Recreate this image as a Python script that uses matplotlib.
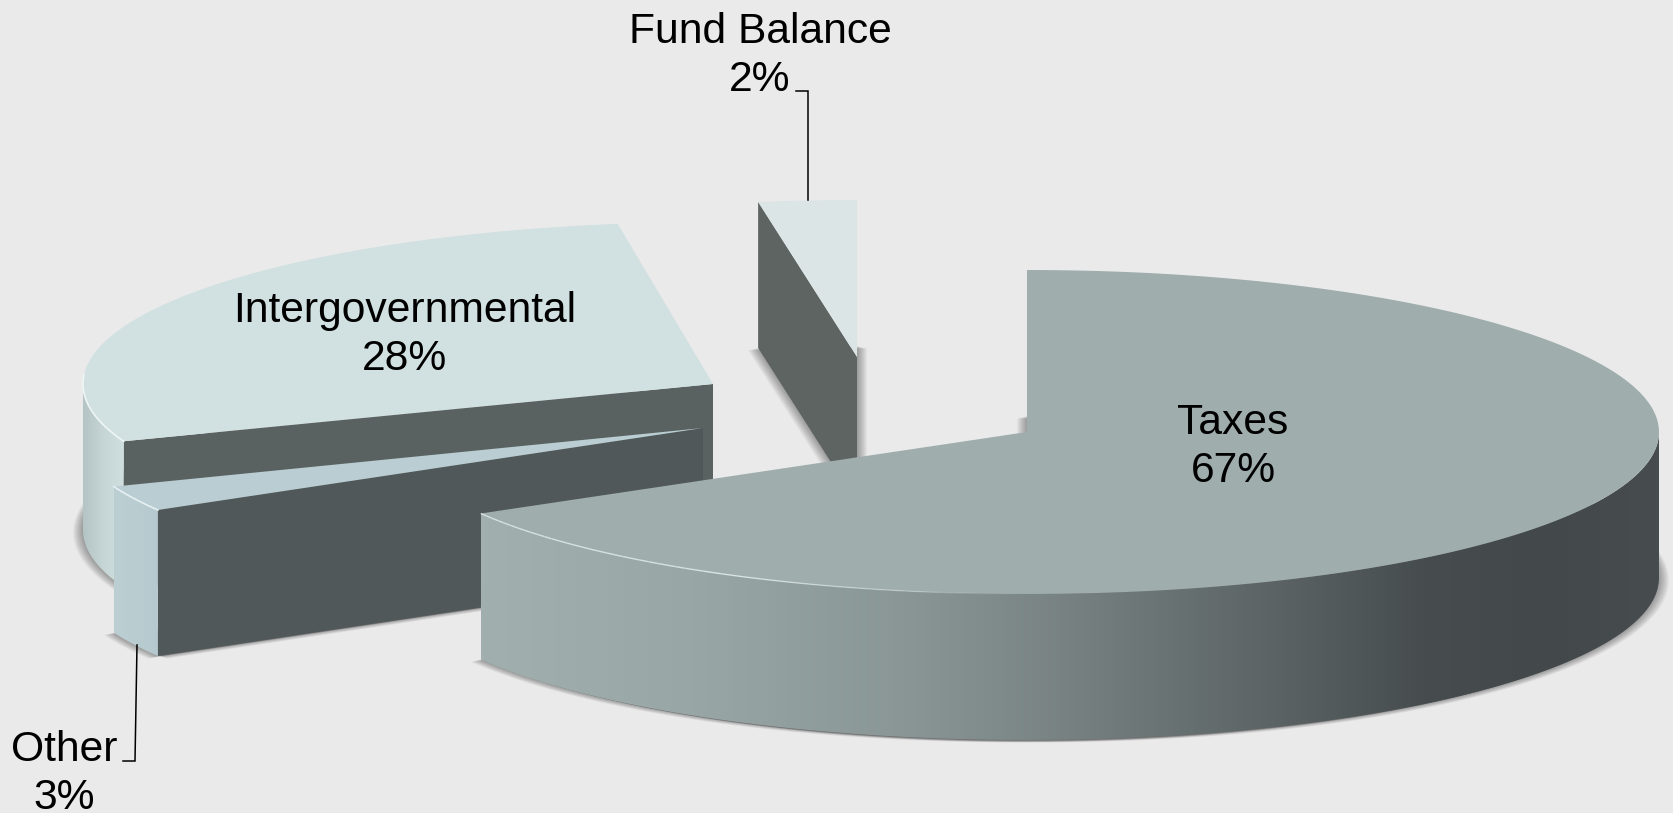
import numpy as np
import matplotlib
matplotlib.use('Agg')
import matplotlib.pyplot as plt
from matplotlib.colors import LinearSegmentedColormap
from matplotlib.patches import Polygon

plt.rcParams['font.family'] = ['Liberation Sans', 'DejaVu Sans']

labels = ['Taxes', 'Other', 'Intergovernmental', 'Fund Balance']
values = [67, 3, 28, 2]

BG = '#eaeaea'
THICK = 146

# where each slice sits on the page, in pixels. trim nudges the start/end
# angle a little because the projection isn't a perfect ellipse
slice_conf = {
    'Taxes': {'apex': (1027, 432), 'rx': 632, 'ry': 162, 'trim': (0, -1.4),
              'top': '#9fadad', 'face': '#9fadad',
              'wall': ['#a1afaf', '#98a6a6', '#8a9696', '#778181', '#5a6264', '#474d4f', '#43494b', '#474d4f'],
              'wall_pos': [0, 0.18, 0.36, 0.5, 0.68, 0.8, 0.9, 1]},
    'Other': {'apex': (703, 428), 'rx': 632, 'ry': 162, 'trim': (-1.6, -3.2),
              'top': '#bacdd2', 'face': '#505859',
              'wall': ['#bccfd3', '#b6c9ce'], 'wall_pos': [0, 1]},
    'Intergovernmental': {'apex': (713, 384), 'rx': 630, 'ry': 162, 'trim': (-2.7, -1.5),
                          'top': '#d1e0e0', 'face': '#596260',
                          'wall': ['#b4c4c5', '#c6d6d7', '#d0dfdf'], 'wall_pos': [0, 0.5, 1]},
    'Fund Balance': {'apex': (857, 357), 'rx': 632, 'ry': 157, 'trim': (-1.8, 0),
                     'top': '#dce5e6', 'face': '#5e6462',
                     'wall': ['#dce5e6', '#dce5e6'], 'wall_pos': [0, 1]},
}

# back to front
draw_order = ['Fund Balance', 'Intergovernmental', 'Other', 'Taxes']

label_pos = {
    'Taxes': (1233, 447),
    'Other': (64, 774),
    'Intergovernmental': (405, 335),
    'Fund Balance': (760, 56),
}
leaders = {
    'Fund Balance': ([796, 808, 808], [91, 91, 200]),
    'Other': ([137, 135, 123], [645, 761, 761]),
}


def arc(conf, a0, a1, drop=0, n=200):
    # angles clockwise from 12 o'clock, y grows downwards
    t = np.radians(np.linspace(a0, a1, n))
    x = conf['apex'][0] + conf['rx'] * np.sin(t)
    y = conf['apex'][1] - conf['ry'] * np.cos(t) + drop
    return x, y


def draw_shadow(ax, conf, a0, a1):
    # horizontal smear of the slice's underside
    x, y = arc(conf, a0, a1, THICK)
    x = np.r_[conf['apex'][0], x]
    y = np.r_[conf['apex'][1] + THICK, y]
    for k in range(1, 11):
        for sign in (-1, 1):
            ax.add_patch(Polygon(np.c_[x + sign * k, y + k * 0.25], closed=True, fc='black',
                                 ec='none', alpha=0.035, zorder=1))


def draw_slice(ax, conf, a0, a1, z):
    ax_x, ax_y = conf['apex']
    # cut face at the start angle
    ex, ey = arc(conf, a0, a0, n=1)
    face = [(ax_x, ax_y), (ex[0], ey[0]), (ex[0], ey[0] + THICK), (ax_x, ax_y + THICK)]
    ax.add_patch(Polygon(face, closed=True, fc=conf['face'], ec='none', zorder=z))

    # outer wall, only the part that faces the viewer
    w0, w1 = max(a0, 90), min(a1, 270)
    if w1 > w0:
        tx, ty = arc(conf, w0, w1)
        poly = np.r_[np.c_[tx, ty], np.c_[tx, ty + THICK][::-1]]
        patch = Polygon(poly, closed=True, fc='none', ec='none', zorder=z)
        ax.add_patch(patch)
        cmap = LinearSegmentedColormap.from_list('wall', list(zip(conf['wall_pos'], conf['wall'])))
        grad = np.linspace(0, 1, 512).reshape(1, -1)
        im = ax.imshow(grad, cmap=cmap, aspect='auto', zorder=z, interpolation='bilinear',
                       extent=(tx.min(), tx.max(), ty.max() + THICK, ty.min()))
        im.set_clip_path(patch)

    # top surface
    tx, ty = arc(conf, a0, a1)
    top = np.r_[[[ax_x, ax_y]], np.c_[tx, ty]]
    ax.add_patch(Polygon(top, closed=True, fc=conf['top'], ec='none', zorder=z + 0.1))


fig = plt.figure(figsize=(16.73, 8.13), dpi=100, facecolor=BG)
ax = fig.add_axes([0, 0, 1, 1])
ax.axis('off')

# slice angles from the values
ends = np.cumsum(values) * 3.6
starts = np.r_[0, ends[:-1]]
angles = {}
for name, a0, a1 in zip(labels, starts, ends):
    trim = slice_conf[name]['trim']
    angles[name] = (a0 + trim[0], a1 + trim[1])

for name in draw_order:
    draw_shadow(ax, slice_conf[name], *angles[name])

for i, name in enumerate(draw_order):
    draw_slice(ax, slice_conf[name], *angles[name], 2 + i)

ax.set_xlim(0, 1673)
ax.set_ylim(813, 0)

# thin bevel highlights along the lit edges, the long one fades out towards the front
hx, hy = arc(slice_conf['Taxes'], angles['Taxes'][1] - 60, angles['Taxes'][1], n=61)
for i in range(60):
    ax.plot(hx[i:i + 2], hy[i:i + 2], color='#dfe9e9', lw=1.0, alpha=min(0.9, i / 30), zorder=6,
            solid_capstyle='butt')
hx, hy = arc(slice_conf['Intergovernmental'], angles['Intergovernmental'][0], angles['Intergovernmental'][0] + 24)
ax.plot(hx, hy, color='#eef5f5', lw=1.2, zorder=4)
hx, hy = arc(slice_conf['Other'], *angles['Other'])
ax.plot(hx, hy, color='#e6f0f2', lw=1.2, zorder=5)

for name, val in zip(labels, values):
    x, y = label_pos[name]
    ax.text(x, y, name + '\n' + str(val) + '%', ha='center', va='center', fontsize=30.7,
            color='black', linespacing=1.27, zorder=10)

for name in leaders:
    ax.plot(leaders[name][0], leaders[name][1], color='black', lw=1.1, zorder=9,
            solid_joinstyle='miter')

fig.savefig('out.png', dpi=100, facecolor=BG)
